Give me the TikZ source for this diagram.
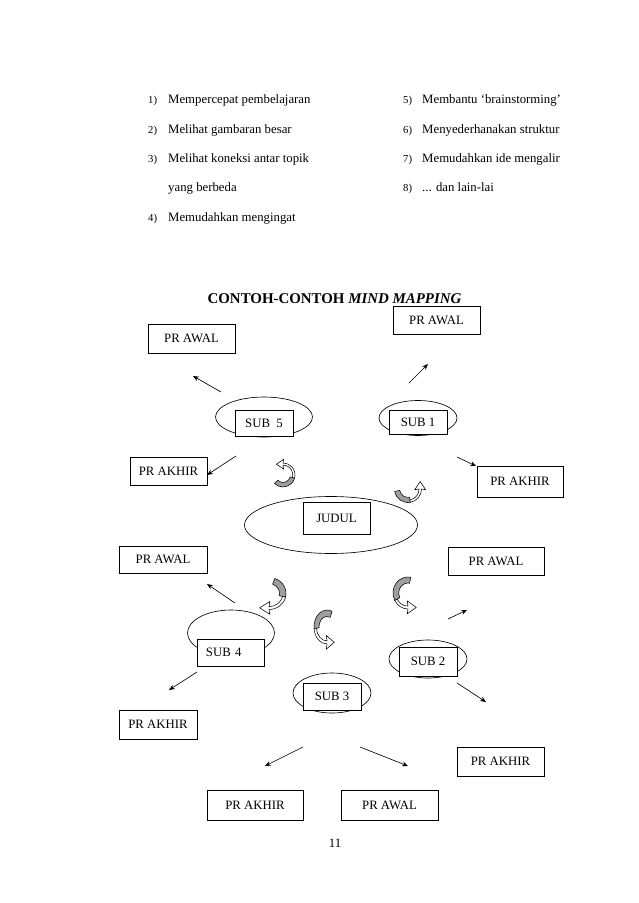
\documentclass[tikz,border=0pt]{standalone}
\usepackage{fontspec}
\setmainfont{Liberation Serif}
\usetikzlibrary{arrows.meta,shapes.geometric}
\definecolor{TurnGray}{RGB}{158,158,158}
\newcommand{\boxfont}{\fontsize{12}{14}\selectfont}
\tikzset{
  prbox/.style 2 args={draw,line width=0.6pt,fill=white,inner sep=0pt,
    minimum width=#1*0.033cm,minimum height=#2*0.033cm,font=\boxfont},
  subring/.style 2 args={ellipse,draw,line width=0.6pt,inner sep=0pt,
    minimum width=#1*0.033cm,minimum height=#2*0.033cm},
  itemtext/.style={anchor=base west,inner sep=0pt,font=\boxfont},
  itemnum/.style={anchor=base west,inner sep=0pt,font=\fontsize{10}{12}\selectfont},
  arrow/.style={-{Stealth[length=5.5pt,width=4.5pt]},line width=0.6pt},
  turnfill/.style={fill=TurnGray,draw=black,line width=0.5pt},
  turnhead/.style={fill=white,draw=black,line width=0.5pt}
}
% bent block arrow: #1 placement, #2/#3 angles of the grey part
\newcommand{\turnarrow}[3]{%
  \begin{scope}[#1]
    \filldraw[turnfill] (#2:1) arc[start angle=#2,end angle=#3,radius=1]
      -- (#3:0.62) arc[start angle=#3,end angle=#2,radius=0.62] -- cycle;
    \filldraw[turnhead] (#3:1) arc[start angle=#3,end angle=90,radius=1]
      -- (0.05,1.3) -- (-0.55,0.9) -- (0.05,0.5) -- (0,0.82)
      arc[start angle=90,end angle=#3,radius=0.82] -- cycle;
  \end{scope}}

\begin{document}
\begin{tikzpicture}[x=0.033cm,y=0.033cm]
  \useasboundingbox (0,0) rectangle (638,-903);

  % list of benefits
  \node[itemnum]  (n1) at (148,-104) {1)};
  \node[itemtext] (i1) at (168,-104) {Mempercepat pembelajaran};
  \node[itemnum]  (n2) at (148,-134) {2)};
  \node[itemtext] (i2) at (168,-134) {Melihat gambaran besar};
  \node[itemnum]  (n3) at (148,-163) {3)};
  \node[itemtext] (i3) at (168,-163) {Melihat koneksi antar topik};
  \node[itemtext] (i3b) at (168,-192) {yang berbeda};
  \node[itemnum]  (n4) at (148,-222) {4)};
  \node[itemtext] (i4) at (168,-222) {Memudahkan mengingat};
  \node[itemnum]  (n5) at (403,-104) {5)};
  \node[itemtext] (i5) at (422,-104) {Membantu ‘brainstorming’};
  \node[itemnum]  (n6) at (403,-134) {6)};
  \node[itemtext] (i6) at (422,-134) {Menyederhanakan struktur};
  \node[itemnum]  (n7) at (403,-163) {7)};
  \node[itemtext] (i7) at (422,-163) {Memudahkan ide mengalir};
  \node[itemnum]  (n8) at (403,-192) {8)};
  \node[itemtext] (i8) at (422,-192) {... dan lain-lai};

  \node[anchor=base,inner sep=0pt,font=\fontsize{14}{16}\selectfont\bfseries]
    (title) at (334.5,-303) {CONTOH-CONTOH \textit{MIND MAPPING}};

  % rings
  \node[subring={97}{40}]  (ring5) at (264,-417) {};
  \node[subring={78}{35}]  (ring1) at (418,-418) {};
  \node[subring={173}{57}] (ringJ) at (331,-525) {};
  \node[subring={87}{46}]  (ring4) at (231,-633) {};
  \node[subring={78}{38}]  (ring2) at (428,-659) {};
  \node[subring={78}{40}]  (ring3) at (332,-693) {};

  % labels on the rings
  \node[prbox={58}{26}] (sub5) at (264,-423) {SUB\ \ 5};
  \node[prbox={58}{24}] (sub1) at (418,-422) {SUB 1};
  \node[prbox={67}{32}] (judul) at (336.5,-518) {JUDUL};
  \node[prbox={67}{27},inner xsep=0.3cm,text width=1.62cm,align=left]
    (sub4) at (230.5,-652.5) {SUB 4};
  \node[prbox={58}{29}] (sub2) at (428,-661.5) {SUB 2};
  \node[prbox={58}{27}] (sub3) at (332,-696.5) {SUB 3};

  % PR boxes
  \node[prbox={87}{29}] (awalA) at (191.5,-338.5) {PR AWAL};
  \node[prbox={87}{28}] (awalB) at (436.5,-320) {PR AWAL};
  \node[prbox={77}{28}] (akhirA) at (168.5,-471) {PR AKHIR};
  \node[prbox={86}{31}] (akhirB) at (520,-481.5) {PR AKHIR};
  \node[prbox={88}{27}] (awalC) at (163,-559.5) {PR AWAL};
  \node[prbox={96}{28}] (awalD) at (496,-561) {PR AWAL};
  \node[prbox={78}{29}] (akhirC) at (158,-724.5) {PR AKHIR};
  \node[prbox={87}{29}] (akhirD) at (500.5,-761.5) {PR AKHIR};
  \node[prbox={96}{30}] (akhirE) at (255,-805) {PR AKHIR};
  \node[prbox={97}{30}] (awalE) at (389.5,-805) {PR AWAL};

  % arrow ends
  \coordinate (t1) at (221,-392);  \coordinate (h1) at (193,-376);
  \coordinate (t2) at (409,-383);  \coordinate (h2) at (428,-364);
  \coordinate (t3) at (236,-456);  \coordinate (h3) at (207,-475);
  \coordinate (t4) at (457,-457);  \coordinate (h4) at (476,-466);
  \coordinate (t5) at (235,-603);  \coordinate (h5) at (207,-584);
  \coordinate (t6) at (448,-619);  \coordinate (h6) at (467,-610);
  \coordinate (t7) at (197,-672);  \coordinate (h7) at (169,-690);
  \coordinate (t8) at (457,-683);  \coordinate (h8) at (486,-702);
  \coordinate (t9) at (303,-747);  \coordinate (h9) at (265,-766);
  \coordinate (t10) at (360,-747); \coordinate (h10) at (408,-766);
  \foreach \k in {1,...,10}
    \draw[arrow] (t\k) -- (h\k);

  % bent arrows between the rings
  \turnarrow{shift={(283,-475)},scale=12}{-135}{-15}
  \turnarrow{shift={(408,-489)},rotate=-90,scale=13.5}{-80}{10}
  \turnarrow{shift={(269,-593.5)},xscale=17,yscale=-16}{-70}{13}
  \turnarrow{shift={(408,-593)},rotate=180,xscale=15,yscale=16}{-100}{28}
  \turnarrow{shift={(327,-627)},rotate=180,xscale=13,yscale=17}{-113}{5}

  \node[anchor=base,inner sep=0pt,font=\boxfont] (page) at (335,-847) {11};
\end{tikzpicture}
\end{document}
